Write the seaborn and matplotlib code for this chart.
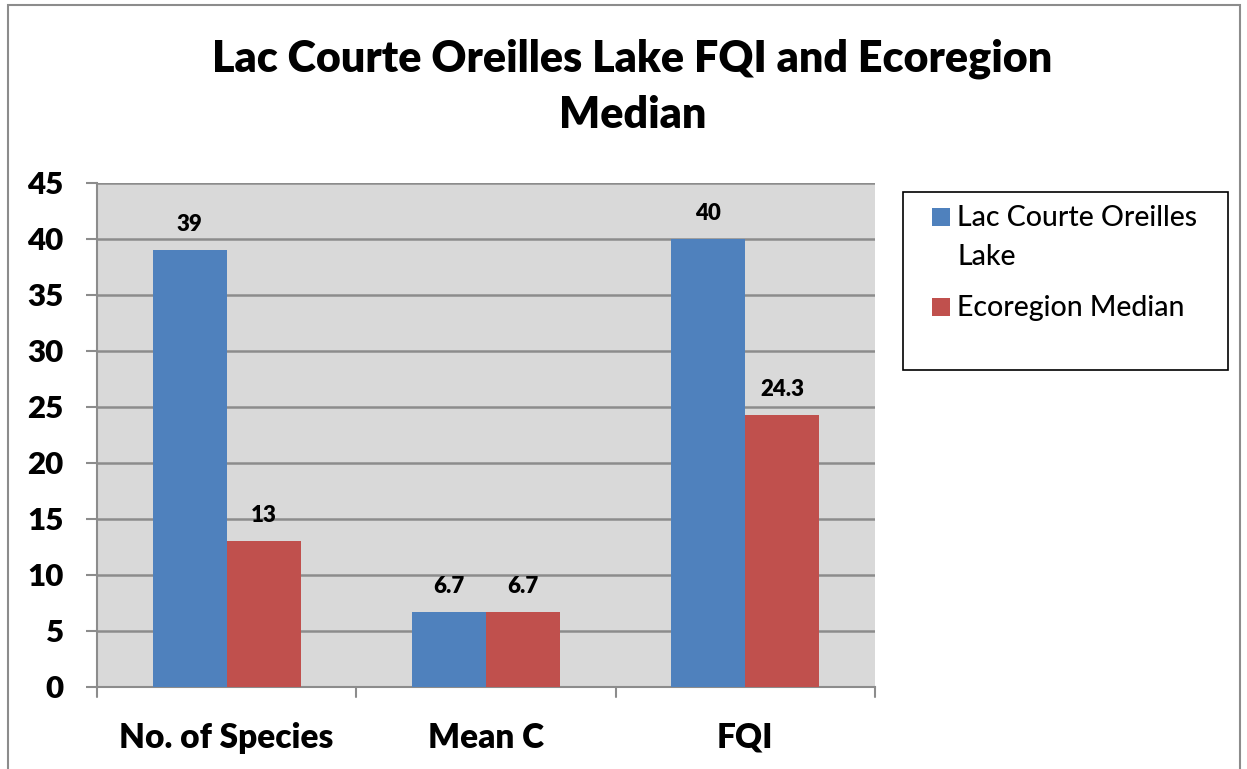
import matplotlib
matplotlib.use("Agg")
import matplotlib.pyplot as plt
import matplotlib.patches as mpatches
import seaborn as sns
import pandas as pd

# Chart data
categories = ["No. of Species", "Mean C", "FQI"]
lake_values = [39, 6.7, 40]
ecoregion_values = [13, 6.7, 24.3]
series_names = ["Lac Courte Oreilles Lake", "Ecoregion Median"]
colors = ["#4f81bd", "#c0504d"]
yticks = list(range(0, 50, 5))

df = pd.DataFrame({
    "category": categories * 2,
    "value": lake_values + ecoregion_values,
    "series": [series_names[0]] * 3 + [series_names[1]] * 3,
})

sns.set_style("white")
plt.rcParams["font.family"] = ["Lato", "DejaVu Sans"]

W, H = 1247, 769
fig = plt.figure(figsize=(W / 100, H / 100), dpi=100)
ax = fig.add_axes([97 / W, 1 - 687 / H, (875 - 97) / W, (687 - 183) / H])

sns.barplot(data=df, x="category", y="value", hue="series", order=categories,
            palette=colors, width=0.57, saturation=1,
            edgecolor="none", ax=ax, zorder=3, legend=False)

ax.set_facecolor("#d9d9d9")
ax.set_ylim(0, 45)
ax.set_xlim(-0.5, 2.5)
ax.set_yticks(yticks)
ax.set_yticklabels([str(t) for t in yticks], fontsize=22.5, fontweight="heavy", color="black")
ax.yaxis.grid(True, color="#8c8c8c", linewidth=1.8, zorder=0)
ax.set_axisbelow(True)

# category labels centred, tick marks at boundaries
ax.set_xticks([0, 1, 2])
ax.set_xticklabels(categories, fontsize=24, fontweight="heavy", color="black")
ax.tick_params(axis="x", length=0, pad=25)
for b in [-0.5, 0.5, 1.5, 2.5]:
    ax.plot([b, b], [0, -0.02], transform=ax.get_xaxis_transform(),
            color="#8c8c8c", linewidth=1.5, clip_on=False)
ax.tick_params(axis="y", length=8, width=1.5, color="#8c8c8c", left=True, pad=16)
ax.set_xlabel("")
ax.set_ylabel("")

for side in ["top", "right"]:
    ax.spines[side].set_visible(False)
for side in ["left", "bottom"]:
    ax.spines[side].set_color("#8c8c8c")
    ax.spines[side].set_linewidth(1.5)

for cont in ax.containers:
    labels = [("%g" % v) for v in cont.datavalues]
    ax.bar_label(cont, labels=labels, padding=11, fontsize=16, fontweight="heavy", color="black")

# legend box (Excel style: marker aligned with first line of a wrapped label)
fig.patches.append(mpatches.Rectangle((903 / W, 1 - 370 / H), (1228 - 903) / W, (370 - 192) / H,
                                      transform=fig.transFigure, fill=False,
                                      edgecolor="black", linewidth=1.2))
legend_rows = [(["Lac Courte Oreilles", "Lake"], 208, [226, 265]),
               (["Ecoregion Median"], 298, [316])]
for (lines, mark_top, baselines), col in zip(legend_rows, colors):
    fig.patches.append(mpatches.Rectangle((932 / W, 1 - (mark_top + 18) / H), 18 / W, 18 / H,
                                          transform=fig.transFigure, facecolor=col,
                                          edgecolor="none"))
    for txt, yb in zip(lines, baselines):
        fig.text(957 / W, 1 - yb / H, txt, ha="left", va="baseline",
                 fontsize=20.5, fontweight="medium", color="black")

fig.text(0.507, 1 - 87 / H, "Lac Courte Oreilles Lake FQI and Ecoregion\nMedian",
         ha="center", va="center", fontsize=31, fontweight="heavy",
         linespacing=1.5, color="black")

# outer chart border
fig.patches.append(mpatches.Rectangle((8 / W, -0.05), (1240 - 8) / W, 1.05 - 5 / H,
                                      transform=fig.transFigure, fill=False,
                                      edgecolor="#8c8c8c", linewidth=1.5))

fig.savefig("out.png", dpi=100)
